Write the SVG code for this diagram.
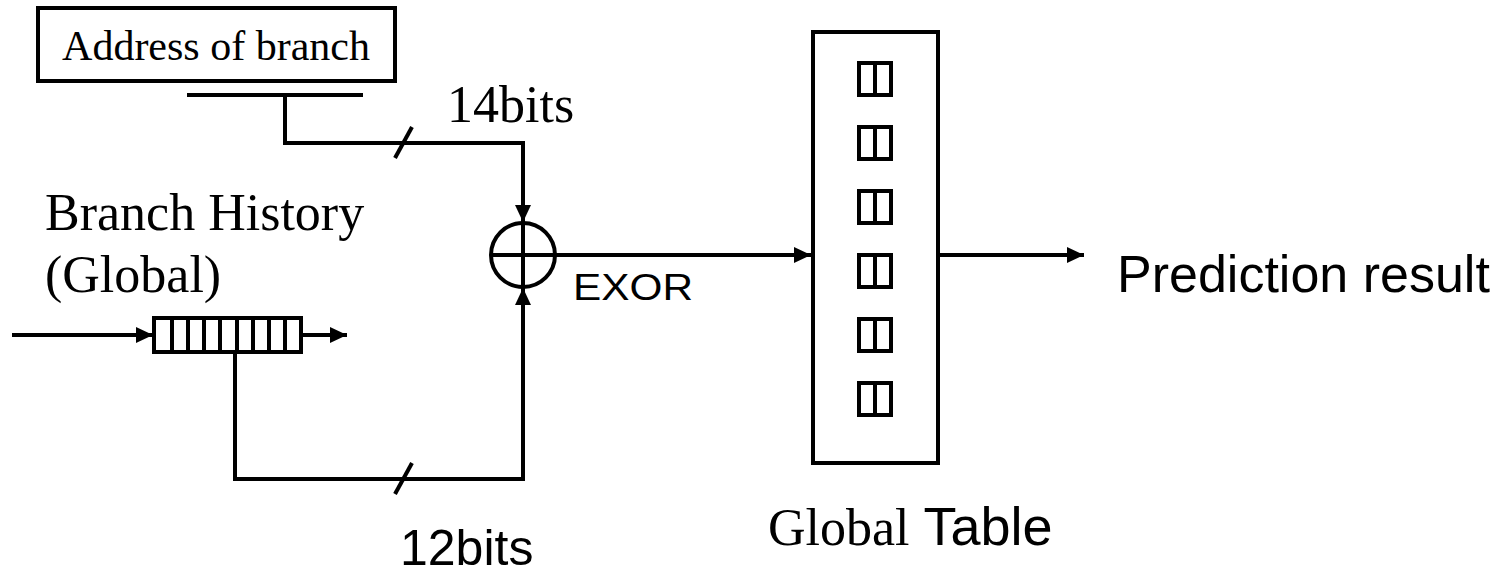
<svg xmlns="http://www.w3.org/2000/svg" width="1506" height="573" viewBox="0 0 1506 573">
  <style>
    .ln { fill: none; stroke: #000; stroke-width: 4; stroke-linecap: butt; stroke-linejoin: miter; }
    .box { fill: #fff; stroke: #000; stroke-width: 4; }
    .cell { fill: #fff; stroke: #000; stroke-width: 4; }
    .serif { font-family: "Liberation Serif", "Times New Roman", serif; fill: #000; }
    .sans { font-family: "Liberation Sans", Arial, sans-serif; fill: #000; }
  </style>
  <defs>
    <marker id="arrow" markerUnits="userSpaceOnUse" markerWidth="17" markerHeight="17" viewBox="0 0 17 17" refX="17" refY="8.5" orient="auto">
      <path d="M0,0.5 L17,8.5 L0,16.5 Z" fill="#000"/>
    </marker>
  </defs>

  <rect width="1506" height="573" fill="#fff"/>

  <!-- connectors -->
  <g id="connectors">
    <!-- address bus down to XOR -->
    <line class="ln" x1="187" y1="95" x2="363" y2="95"/>
    <polyline class="ln" points="285,95 285,143 523,143 523,222" marker-end="url(#arrow)"/>
    <line class="ln" x1="395" y1="158" x2="412" y2="127"/>
    <!-- history register input/output -->
    <line class="ln" x1="12" y1="335" x2="153" y2="335" marker-end="url(#arrow)"/>
    <line class="ln" x1="301" y1="335" x2="347" y2="335" marker-end="url(#arrow)"/>
    <!-- history bus up to XOR -->
    <polyline class="ln" points="235,352 235,479 523,479 523,288" marker-end="url(#arrow)"/>
    <line class="ln" x1="395" y1="494" x2="412" y2="463"/>
    <!-- XOR to table, table to result -->
    <line class="ln" x1="556" y1="255" x2="811" y2="255" marker-end="url(#arrow)"/>
    <line class="ln" x1="938" y1="255" x2="1084" y2="255" marker-end="url(#arrow)"/>
  </g>

  <g id="address">
    <rect class="box" x="38" y="8" width="357" height="73"/>
    <text class="serif" x="216" y="60" font-size="42" text-anchor="middle">Address of branch</text>
  </g>

  <g id="label-14bits">
    <text class="serif" x="447" y="122" font-size="52">14bits</text>
  </g>

  <g id="history-label">
    <text class="serif" x="45" y="230" font-size="52">Branch History</text>
    <text class="serif" x="45" y="292" font-size="52">(Global)</text>
  </g>

  <g id="history-register">
    <rect class="box" x="154" y="318" width="147" height="34"/>
    <path class="ln" d="M172,318V352 M188,318V352 M204,318V352 M220,318V352 M237,318V352 M253,318V352 M269,318V352 M285,318V352"/>
  </g>

  <g id="xor">
    <circle class="ln" cx="523" cy="255" r="32"/>
    <line class="ln" x1="491" y1="255" x2="555" y2="255"/>
    <line class="ln" x1="523" y1="223" x2="523" y2="287"/>
    <text class="sans" x="573" y="300" font-size="36" textLength="120" lengthAdjust="spacingAndGlyphs">EXOR</text>
  </g>

  <g id="label-12bits">
    <text class="sans" x="400" y="565" font-size="50">12bits</text>
  </g>

  <g id="global-table">
    <rect class="box" x="813" y="32" width="125" height="431"/>
    <g id="table-cells">
      <rect class="cell" x="859" y="63" width="32" height="32"/>
      <line class="cell" x1="875" y1="63" x2="875" y2="95"/>
      <rect class="cell" x="859" y="127" width="32" height="32"/>
      <line class="cell" x1="875" y1="127" x2="875" y2="159"/>
      <rect class="cell" x="859" y="191" width="32" height="32"/>
      <line class="cell" x1="875" y1="191" x2="875" y2="223"/>
      <rect class="cell" x="859" y="255" width="32" height="32"/>
      <line class="cell" x1="875" y1="255" x2="875" y2="287"/>
      <rect class="cell" x="859" y="319" width="32" height="32"/>
      <line class="cell" x1="875" y1="319" x2="875" y2="351"/>
      <rect class="cell" x="859" y="383" width="32" height="32"/>
      <line class="cell" x1="875" y1="383" x2="875" y2="415"/>
    </g>
    <text x="768" y="545"><tspan class="serif" font-size="52">Global</tspan><tspan class="sans" font-size="54"> Table</tspan></text>
  </g>

  <g id="result">
    <text class="sans" x="1117" y="292" font-size="52">Prediction result</text>
  </g>
</svg>
